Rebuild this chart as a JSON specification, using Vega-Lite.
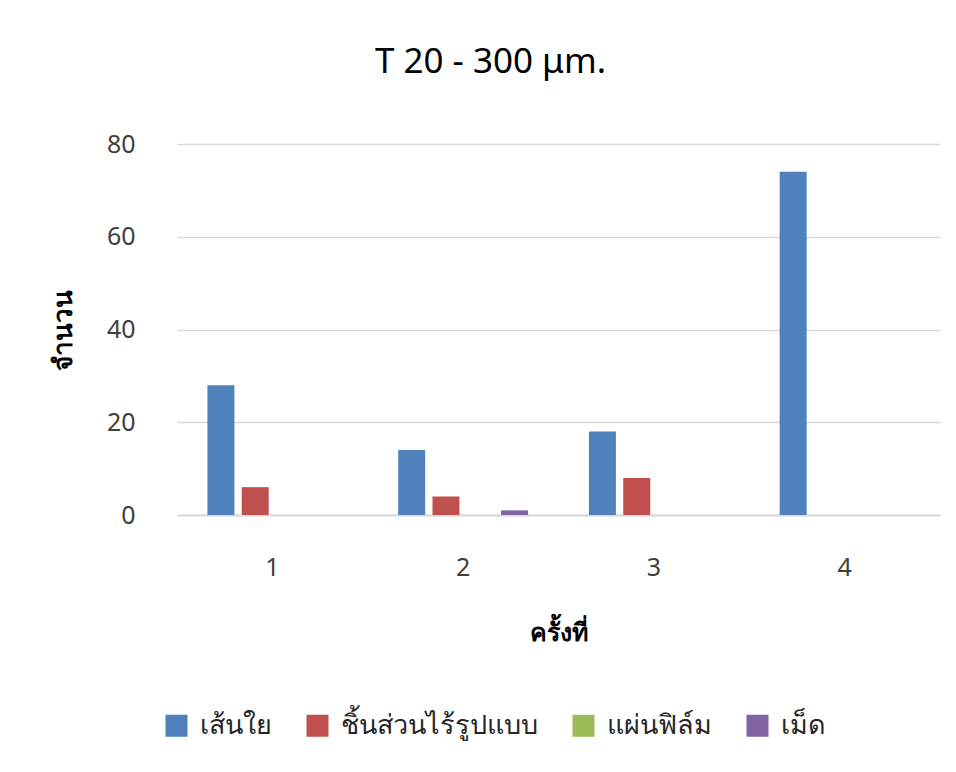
{
  "$schema": "https://vega.github.io/schema/vega-lite/v6.json",
  "width": 763,
  "height": 371,
  "autosize": {"type": "none"},
  "padding": {"left": 177, "top": 144, "right": 16, "bottom": 257},
  "background": "white",
  "title": {
    "text": "T 20 - 300 μm.",
    "font": "Noto Sans",
    "fontSize": 35,
    "fontWeight": "normal",
    "color": "#000000",
    "anchor": "middle",
    "dx": -68,
    "offset": 52
  },
  "data": {
    "values": [
      {"round": "1", "type": "เส้นใย", "count": 28},
      {"round": "1", "type": "ชิ้นส่วนไร้รูปแบบ", "count": 6},
      {"round": "1", "type": "แผ่นฟิล์ม", "count": 0},
      {"round": "1", "type": "เม็ด", "count": 0},
      {"round": "2", "type": "เส้นใย", "count": 14},
      {"round": "2", "type": "ชิ้นส่วนไร้รูปแบบ", "count": 4},
      {"round": "2", "type": "แผ่นฟิล์ม", "count": 0},
      {"round": "2", "type": "เม็ด", "count": 1},
      {"round": "3", "type": "เส้นใย", "count": 18},
      {"round": "3", "type": "ชิ้นส่วนไร้รูปแบบ", "count": 8},
      {"round": "3", "type": "แผ่นฟิล์ม", "count": 0},
      {"round": "3", "type": "เม็ด", "count": 0},
      {"round": "4", "type": "เส้นใย", "count": 74},
      {"round": "4", "type": "ชิ้นส่วนไร้รูปแบบ", "count": 0},
      {"round": "4", "type": "แผ่นฟิล์ม", "count": 0},
      {"round": "4", "type": "เม็ด", "count": 0}
    ]
  },
  "mark": {"type": "bar"},
  "encoding": {
    "x": {
      "field": "round",
      "type": "nominal",
      "scale": {"paddingInner": 0, "paddingOuter": 0},
      "axis": {
        "title": "ครั้งที่",
        "labelAngle": 0,
        "labelFont": "Noto Sans",
        "labelFontSize": 25,
        "labelColor": "#404040",
        "labelPadding": 40,
        "ticks": false,
        "domainColor": "#D9D9D9",
        "domainWidth": 2,
        "titleFont": "Noto Sans",
        "titleFontSize": 25,
        "titleFontWeight": "bold",
        "titleColor": "#000000",
        "titlePadding": 40
      }
    },
    "xOffset": {
      "field": "type",
      "type": "nominal",
      "sort": ["เส้นใย", "ชิ้นส่วนไร้รูปแบบ", "แผ่นฟิล์ม", "เม็ด"],
      "scale": {"paddingInner": 0.213, "paddingOuter": 0.887}
    },
    "y": {
      "field": "count",
      "type": "quantitative",
      "scale": {"domain": [0, 80]},
      "axis": {
        "title": "จำนวน",
        "values": [0, 20, 40, 60, 80],
        "domain": false,
        "ticks": false,
        "labelFont": "Noto Sans",
        "labelFontSize": 25,
        "labelColor": "#404040",
        "labelPadding": 42,
        "gridColor": "#D9D9D9",
        "gridWidth": 1.5,
        "titleFont": "Noto Sans",
        "titleFontSize": 26,
        "titleFontWeight": "bold",
        "titleColor": "#000000",
        "titlePadding": 30
      }
    },
    "color": {
      "field": "type",
      "type": "nominal",
      "sort": ["เส้นใย", "ชิ้นส่วนไร้รูปแบบ", "แผ่นฟิล์ม", "เม็ด"],
      "scale": {
        "domain": ["เส้นใย", "ชิ้นส่วนไร้รูปแบบ", "แผ่นฟิล์ม", "เม็ด"],
        "range": ["#4F81BD", "#C0504D", "#9BBB59", "#8064A2"]
      },
      "legend": {
        "title": null,
        "orient": "none",
        "direction": "horizontal",
        "legendX": -14,
        "legendY": 568,
        "symbolType": "square",
        "symbolSize": 484,
        "symbolStrokeWidth": 0,
        "labelFont": "Noto Sans",
        "labelFontSize": 27,
        "labelColor": "#262626",
        "labelOffset": 10,
        "columnPadding": 32,
        "labelLimit": 400
      }
    }
  },
  "config": {
    "view": {"stroke": null}
  }
}
